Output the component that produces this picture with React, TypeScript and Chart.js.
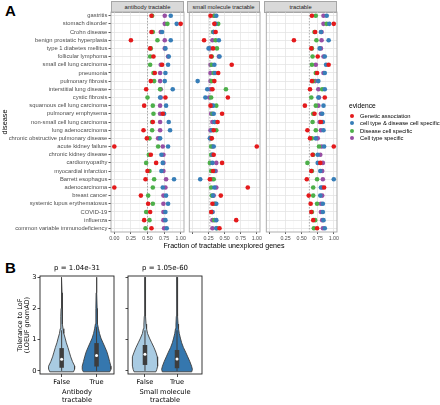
import React, { useEffect, useRef } from 'react';
import { Chart, registerables } from 'chart.js';

Chart.register(...registerables);

// ---------------- Panel A data ----------------
const diseases = [
  'gastritis', 'stomach disorder', 'Crohn disease', 'benign prostatic hyperplasia',
  'type 1 diabetes mellitus', 'follicular lymphoma', 'small cell lung carcinoma', 'pneumonia',
  'pulmonary fibrosis', 'interstitial lung disease', 'cystic fibrosis', 'squamous cell lung carcinoma',
  'pulmonary emphysema', 'non-small cell lung carcinoma', 'lung adenocarcinoma',
  'chronic obstructive pulmonary disease', 'acute kidney failure', 'chronic kidney disease',
  'cardiomyopathy', 'myocardial infarction', 'Barrett esophagus', 'adenocarcinoma', 'breast cancer',
  'systemic lupus erythematosus', 'COVID-19', 'influenza', 'common variable immunodeficiency',
];
const evidenceTypes = ['Genetic association', 'cell type & disease cell specific', 'Disease cell specific', 'Cell type specific'];
const evidenceColors = ['#e41a1c', '#377eb8', '#4daf4a', '#984ea3'];
const facetTitles = ['antibody tractable', 'small molecule tractable', 'tractable'];
const fractionTicks = [0, 0.25, 0.5, 0.75, 1];
const fractionMinorTicks = [0.125, 0.375, 0.625, 0.875];
const xAxisTitle = 'Fraction of tractable unexplored genes';
const yAxisTitle = 'disease';
const legendTitle = 'evidence';

// antibody tractable
const antibodyGenetic = [0.56, 1.0, 0.56, 0.25, 0.54, 0.59, 0.72, 0.61, 0.55, 0.48, 0.77, 0.45, 0.73, 0.58, 0.44, 0.49, 0.0, 0.55, 0.63, 0.5, 0.47, 0.0, 0.4, 0.51, 0.54, 0.45, 0.56];
const antibodyCellDisease = [0.85, 0.94, 0.72, 0.85, 0.77, 0.82, 0.81, 0.77, 0.76, 0.88, 0.69, 0.78, 0.75, 0.82, 0.84, 0.69, 0.81, 0.71, 0.73, 0.71, 0.9, 0.73, 0.78, 0.81, 0.77, 0.77, 0.79];
const antibodyDiseaseCell = [0.57, 0.8, 0.58, 0.65, 0.55, 0.54, 0.54, 0.59, 0.6, 0.69, 0.5, 0.58, 0.59, 0.57, 0.57, 0.53, 0.66, 0.52, 0.48, 0.53, 0.6, 0.58, 0.51, 0.58, 0.48, 0.53, 0.47];
const antibodyCellType = [0.76, 0.76, 0.7, 0.76, 0.76, 0.81, 0.7, 0.69, 0.69, 0.7, 0.7, 0.69, 0.69, 0.69, 0.69, 0.66, 0.73, 0.74, 0.74, 0.74, 0.78, 0.77, 0.74, 0.74, 0.74, 0.74, 0.75];

// small molecule tractable
const smallMolGenetic = [0.28, 0.34, 0.36, 0.18, 0.32, 0.29, 0.61, 0.4, 0.34, 0.31, 0.55, 0.28, 0.46, 0.39, 0.33, 0.3, 1.0, 0.33, 0.46, 0.32, 0.27, 0.86, 0.44, 0.31, 0.29, 0.68, 0.42];
const smallMolCellDisease = [0.37, 0.36, 0.33, 0.41, 0.25, 0.42, 0.34, 0.35, 0.08, 0.23, 0.2, 0.32, 0.33, 0.34, 0.3, 0.27, 0.33, 0.31, 0.31, 0.34, 0.12, 0.34, 0.32, 0.37, 0.31, 0.37, 0.37];
const smallMolDiseaseCell = [0.34, 0.4, 0.32, 0.36, 0.38, 0.3, 0.3, 0.33, 0.3, 0.52, 0.29, 0.37, 0.31, 0.35, 0.37, 0.29, 0.29, 0.29, 0.27, 0.29, 0.33, 0.29, 0.3, 0.35, 0.3, 0.34, 0.38];
const smallMolCellType = [0.33, 0.35, 0.33, 0.31, 0.27, 0.41, 0.28, 0.28, 0.28, 0.28, 0.26, 0.3, 0.29, 0.31, 0.28, 0.28, 0.31, 0.31, 0.37, 0.36, 0.3, 0.37, 0.33, 0.34, 0.31, 0.31, 0.31];

// tractable
const tractableGenetic = [0.66, 1.0, 0.71, 0.38, 0.65, 0.75, 0.92, 0.74, 0.66, 0.63, 0.86, 0.55, 0.7, 0.8, 0.59, 0.63, 1.0, 0.67, 0.79, 0.65, 0.58, 0.85, 0.61, 0.64, 0.65, 0.68, 0.74];
const tractableCellDisease = [0.89, 0.93, 0.8, 0.92, 0.78, 0.86, 0.88, 0.86, 0.76, 0.86, 0.76, 0.84, 0.82, 0.83, 0.84, 0.72, 0.85, 0.75, 0.75, 0.79, 1.0, 0.8, 0.79, 0.83, 0.83, 0.84, 0.86];
const tractableDiseaseCell = [0.72, 0.89, 0.7, 0.73, 0.66, 0.67, 0.66, 0.72, 0.68, 0.82, 0.65, 0.72, 0.68, 0.67, 0.72, 0.66, 0.77, 0.68, 0.59, 0.66, 0.74, 0.68, 0.68, 0.74, 0.66, 0.71, 0.69];
const tractableCellType = [0.84, 0.84, 0.81, 0.81, 0.8, 0.84, 0.72, 0.84, 0.71, 0.76, 0.77, 0.76, 0.8, 0.78, 0.8, 0.75, 0.81, 0.79, 0.83, 0.82, 0.83, 0.82, 0.82, 0.8, 0.8, 0.82, 0.83];

const referenceFractions = [0.5, 0.27, 0.62];

// ---------------- Panel B data ----------------
const violinLevels = [-0.03, 0.05, 0.15, 0.3, 0.45, 0.6, 0.75, 0.9, 1.05, 1.2, 1.35, 1.5, 1.75, 2.0, 2.5, 3.0];
const antibodyFalseDensity = [0.34, 0.37, 0.375, 0.31, 0.26, 0.22, 0.18, 0.135, 0.1, 0.062, 0.04, 0.028, 0.02, 0.016, 0.012, 0.004];
const antibodyTrueDensity = [0.38, 0.41, 0.41, 0.375, 0.34, 0.3, 0.245, 0.185, 0.125, 0.085, 0.055, 0.033, 0.022, 0.017, 0.012, 0.004];
const smallMolFalseDensity = [0.34, 0.37, 0.39, 0.4, 0.385, 0.34, 0.28, 0.21, 0.14, 0.08, 0.05, 0.033, 0.022, 0.017, 0.012, 0.004];
const smallMolTrueDensity = [0.46, 0.48, 0.455, 0.4, 0.335, 0.27, 0.2, 0.145, 0.105, 0.07, 0.048, 0.033, 0.022, 0.017, 0.012, 0.004];
// [whisker low, Q1, median, Q3, whisker high]
const antibodyFalseBox = [0, 0.1, 0.37, 0.73, 1.3];
const antibodyTrueBox = [0, 0.14, 0.49, 0.89, 1.4];
const smallMolFalseBox = [0, 0.19, 0.53, 0.83, 1.3];
const smallMolTrueBox = [0, 0.085, 0.38, 0.67, 1.3];
const tractableLabels = ['False', 'True'];
const pValueLabels = ['p = 1.04e-31', 'p = 1.05e-60'];
const groupLabels = [['Antibody', 'tractable'], ['Small molecule', 'tractable']];
const lofTicks = [0, 1, 2, 3];
const lofAxisTitle = ['Tolerance to LoF', '(LOEUF gnomAD)'];

// ---------------- styling / layout ----------------
const SANS = "'Liberation Sans', Arial, sans-serif";
const DEJAVU = "'DejaVu Sans', sans-serif";
const FACET_LEFT = [111, 187, 264];
const FACET_W = 73;
const PANEL_TOP = 12;
const PANEL_BOTTOM = 232;
const violinFills = ['#a9cbe2', '#3577ae'];
const violinLine = '#3d3d3d';

const facetSeries = [
  [antibodyGenetic, antibodyCellDisease, antibodyDiseaseCell, antibodyCellType],
  [smallMolGenetic, smallMolCellDisease, smallMolDiseaseCell, smallMolCellType],
  [tractableGenetic, tractableCellDisease, tractableDiseaseCell, tractableCellType],
];

const isMajor = (v: number) => Math.abs(v * 4 - Math.round(v * 4)) < 1e-6;

function framePlugin(color: string, width: number) {
  return {
    id: 'frame',
    afterDatasetsDraw(chart: any) {
      const { ctx, chartArea: a } = chart;
      ctx.save();
      ctx.strokeStyle = color;
      ctx.lineWidth = width;
      ctx.strokeRect(a.left, a.top, a.right - a.left, a.bottom - a.top);
      ctx.restore();
    },
  };
}

function FacetChart({ idx }: { idx: number }) {
  const ref = useRef<HTMLCanvasElement>(null);
  const yAxisW = idx === 0 ? 111 : 0;
  const padTop = 6;
  const padRight = 5;
  const xAxisH = 22;
  const width = yAxisW + FACET_W + padRight;
  const height = padTop + (PANEL_BOTTOM - PANEL_TOP) + xAxisH;
  const canvasLeft = FACET_LEFT[idx] - yAxisW;

  useEffect(() => {
    const xGrid = [...fractionTicks, ...fractionMinorTicks].sort((a, b) => a - b);
    const series = facetSeries[idx];
    const refX = referenceFractions[idx];
    const chart = new Chart(ref.current as HTMLCanvasElement, {
      type: 'scatter',
      data: {
        datasets: [
          ...series.map((vals, k) => ({
            label: evidenceTypes[k],
            data: vals.map((v, i) => ({ x: v, y: i })),
            backgroundColor: evidenceColors[k],
            borderWidth: 0,
            pointRadius: 2.3,
            pointHoverRadius: 2.3,
            order: k,
          })),
          {
            label: 'reference',
            data: [{ x: refX, y: -0.45 }, { x: refX, y: 26.45 }],
            showLine: true,
            borderColor: '#9a9a9a',
            borderWidth: 0.8,
            borderDash: [1.5, 1.5],
            pointRadius: 0,
            order: 10,
          } as any,
        ],
      },
      options: {
        animation: false,
        responsive: false,
        events: [],
        layout: { padding: { top: padTop, right: padRight, left: 0, bottom: 0 } },
        plugins: { legend: { display: false }, tooltip: { enabled: false } },
        scales: {
          x: {
            type: 'linear',
            min: -0.05,
            max: 1.05,
            afterBuildTicks: (s: any) => { s.ticks = xGrid.map((v) => ({ value: v })); },
            afterFit: (s: any) => { s.height = xAxisH; },
            grid: {
              color: (c: any) => (c.tick && isMajor(c.tick.value) ? '#e4e4e4' : '#f2f2f2'),
              lineWidth: (c: any) => (c.tick && isMajor(c.tick.value) ? 0.8 : 0.5),
              drawTicks: true,
              tickLength: 2,
              tickColor: (c: any) => (c.tick && isMajor(c.tick.value) ? '#333333' : 'rgba(0,0,0,0)'),
              tickWidth: 0.8,
            },
            border: { display: false },
            ticks: {
              autoSkip: false,
              maxRotation: 0,
              minRotation: 0,
              callback: (v: any) => (isMajor(v) && !(idx > 0 && v === 0) ? Number(v).toFixed(2) : ''),
              font: { family: SANS, size: 5.3, lineHeight: 1.2 },
              color: '#4d4d4d',
              padding: 1.3,
            },
          },
          y: {
            type: 'linear',
            reverse: true,
            min: -0.45,
            max: 26.45,
            afterBuildTicks: (s: any) => { s.ticks = diseases.map((_, i) => ({ value: i })); },
            afterFit: (s: any) => { s.width = yAxisW; },
            grid: { color: '#e4e4e4', lineWidth: 0.8, drawTicks: idx === 0, tickLength: 2.5, tickColor: '#333333', tickWidth: 0.8 },
            border: { display: false },
            ticks: {
              display: idx === 0,
              autoSkip: false,
              callback: (v: any) => diseases[v] ?? '',
              font: { family: SANS, size: 5.8, lineHeight: 1.2 },
              color: '#4d4d4d',
              padding: 1.2,
            },
            title: {
              display: idx === 0,
              text: yAxisTitle,
              font: { family: SANS, size: 7.3, lineHeight: 1.2 },
              color: '#000000',
              padding: { top: 0.6, bottom: 0 },
            },
          },
        },
      },
      plugins: [framePlugin('#a6a6a6', 0.9)],
    } as any);
    return () => chart.destroy();
  }, []);

  return (
    <canvas
      ref={ref}
      width={width}
      height={height}
      style={{ position: 'absolute', left: canvasLeft, top: PANEL_TOP - padTop, width, height }}
    />
  );
}

function violinOutline(pos: number, levels: number[], half: number[]) {
  const left = levels.map((y, i) => ({ x: pos - half[i], y }));
  const right = levels.map((y, i) => ({ x: pos + half[i], y })).reverse();
  return [...left, ...right, left[0]];
}

const violinPanels = [
  { left: 40, right: 115, xMin: -0.62, xMax: 1.5, yAxisW: 40, densities: [antibodyFalseDensity, antibodyTrueDensity], boxes: [antibodyFalseBox, antibodyTrueBox], showY: true },
  { left: 128, right: 203, xMin: -0.53, xMax: 1.78, yAxisW: 7, densities: [smallMolFalseDensity, smallMolTrueDensity], boxes: [smallMolFalseBox, smallMolTrueBox], showY: false },
];

function ViolinChart({ idx }: { idx: number }) {
  const ref = useRef<HTMLCanvasElement>(null);
  const p = violinPanels[idx];
  const top = 262;
  const padRight = 3;
  const width = p.yAxisW + (p.right - p.left) + padRight;
  const height = 405 - top;

  useEffect(() => {
    const datasets: any[] = [];
    [0, 1].forEach((pos) => {
      const box = p.boxes[pos];
      datasets.push({
        label: 'violin ' + tractableLabels[pos],
        data: violinOutline(pos, violinLevels, p.densities[pos]),
        borderColor: violinLine,
        borderWidth: 0.9,
        backgroundColor: violinFills[pos],
        fill: 'shape',
        pointRadius: 0,
        tension: 0,
        order: 3,
      });
      datasets.push({
        label: 'whisker ' + tractableLabels[pos],
        data: [{ x: pos, y: box[0] }, { x: pos, y: box[4] }],
        borderColor: violinLine,
        borderWidth: 1,
        pointRadius: 0,
        fill: false,
        order: 2,
      });
      datasets.push({
        label: 'box ' + tractableLabels[pos],
        data: [{ x: pos, y: box[1] }, { x: pos, y: box[3] }],
        borderColor: violinLine,
        borderWidth: 4.5,
        borderCapStyle: 'butt',
        pointRadius: 0,
        fill: false,
        order: 1,
      });
      datasets.push({
        label: 'median ' + tractableLabels[pos],
        data: [{ x: pos, y: box[2] }],
        showLine: false,
        pointRadius: 1.5,
        pointBackgroundColor: '#ffffff',
        pointBorderWidth: 0,
        order: 0,
      });
    });

    const chart = new Chart(ref.current as HTMLCanvasElement, {
      type: 'line',
      data: { datasets },
      options: {
        animation: false,
        responsive: false,
        events: [],
        layout: { padding: { top: 0, right: padRight, left: 0, bottom: 0 } },
        plugins: {
          legend: { display: false },
          tooltip: { enabled: false },
          title: {
            display: true,
            text: pValueLabels[idx],
            fullSize: false,
            color: '#000000',
            font: { family: DEJAVU, size: 7, lineHeight: 1.2, weight: 'normal' },
            padding: { top: 1.8, bottom: 3.8 },
          },
        },
        scales: {
          x: {
            type: 'linear',
            min: p.xMin,
            max: p.xMax,
            afterBuildTicks: (s: any) => { s.ticks = tractableLabels.map((_, i) => ({ value: i })); },
            afterFit: (s: any) => { s.height = 31; },
            grid: { display: true, drawOnChartArea: false, drawTicks: true, tickLength: 3, color: '#222222', lineWidth: 0.8 },
            border: { display: false },
            ticks: {
              autoSkip: false,
              maxRotation: 0,
              callback: (v: any) => tractableLabels[v] ?? '',
              font: { family: DEJAVU, size: 6.7, lineHeight: 1.2 },
              color: '#000000',
              padding: 1.3,
            },
            title: {
              display: true,
              text: groupLabels[idx],
              font: { family: DEJAVU, size: 6.7, lineHeight: 1.3 },
              color: '#000000',
              padding: { top: 0, bottom: 0 },
            },
          },
          y: {
            type: 'linear',
            min: -0.1,
            max: 3.04,
            afterBuildTicks: (s: any) => { s.ticks = lofTicks.map((v) => ({ value: v })); },
            afterFit: (s: any) => { s.width = p.yAxisW; },
            grid: { display: true, drawOnChartArea: false, drawTicks: true, tickLength: 2.5, color: '#222222', lineWidth: 0.8 },
            border: { display: false },
            ticks: {
              callback: (v: any) => (p.showY ? String(v) : ''),
              font: { family: DEJAVU, size: 6.7, lineHeight: 1.2 },
              color: '#000000',
              padding: 1,
            },
            title: {
              display: p.showY,
              text: lofAxisTitle,
              font: { family: DEJAVU, size: 6.5, lineHeight: 1.0 },
              color: '#000000',
              padding: { top: 17.4, bottom: 0 },
            },
          },
        },
      },
      plugins: [framePlugin('#222222', 0.9)],
    } as any);
    return () => chart.destroy();
  }, []);

  return (
    <canvas
      ref={ref}
      width={width}
      height={height}
      style={{ position: 'absolute', left: p.left - p.yAxisW, top, width, height }}
    />
  );
}

const legendRowsY = [115.7, 123.2, 130.8, 138.3];

export default function App() {
  return (
    <div
      style={{
        position: 'absolute', left: 0, top: 0, width: 440, height: 405,
        background: '#ffffff', overflow: 'hidden', fontFamily: SANS,
      }}
    >
      <div style={{ position: 'absolute', left: 5, top: 3, fontWeight: 'bold', fontSize: 15, lineHeight: '15px', color: '#000' }}>A</div>
      <div style={{ position: 'absolute', left: 5, top: 260, fontWeight: 'bold', fontSize: 15, lineHeight: '15px', color: '#000' }}>B</div>

      {facetTitles.map((t, i) => (
        <div
          key={t}
          style={{
            position: 'absolute', left: FACET_LEFT[i], top: 1, width: FACET_W, height: 11.5,
            boxSizing: 'border-box', border: '0.8px solid #a6a6a6', background: '#d9d9d9',
            fontSize: 5.8, lineHeight: '10px', textAlign: 'center', color: '#1a1a1a', whiteSpace: 'nowrap',
          }}
        >
          {t}
        </div>
      ))}

      {[0, 1, 2].map((i) => <FacetChart key={i} idx={i} />)}

      <div
        style={{
          position: 'absolute', left: 124, width: 200, top: 242, lineHeight: '8px',
          fontSize: 7.1, textAlign: 'center', color: '#000', whiteSpace: 'nowrap',
        }}
      >
        {xAxisTitle}
      </div>

      <div style={{ position: 'absolute', left: 349, top: 102, fontSize: 6.7, lineHeight: '8px', color: '#000' }}>{legendTitle}</div>
      {evidenceTypes.map((e, k) => (
        <React.Fragment key={e}>
          <div
            style={{
              position: 'absolute', left: 350.1, top: legendRowsY[k] - 2.2, width: 4.4, height: 4.4,
              borderRadius: '50%', background: evidenceColors[k],
            }}
          />
          <div
            style={{
              position: 'absolute', left: 360, top: legendRowsY[k] - 4, fontSize: 5.8, lineHeight: '8px',
              color: '#000', whiteSpace: 'nowrap',
            }}
          >
            {e}
          </div>
        </React.Fragment>
      ))}

      {[0, 1].map((i) => <ViolinChart key={i} idx={i} />)}
    </div>
  );
}
